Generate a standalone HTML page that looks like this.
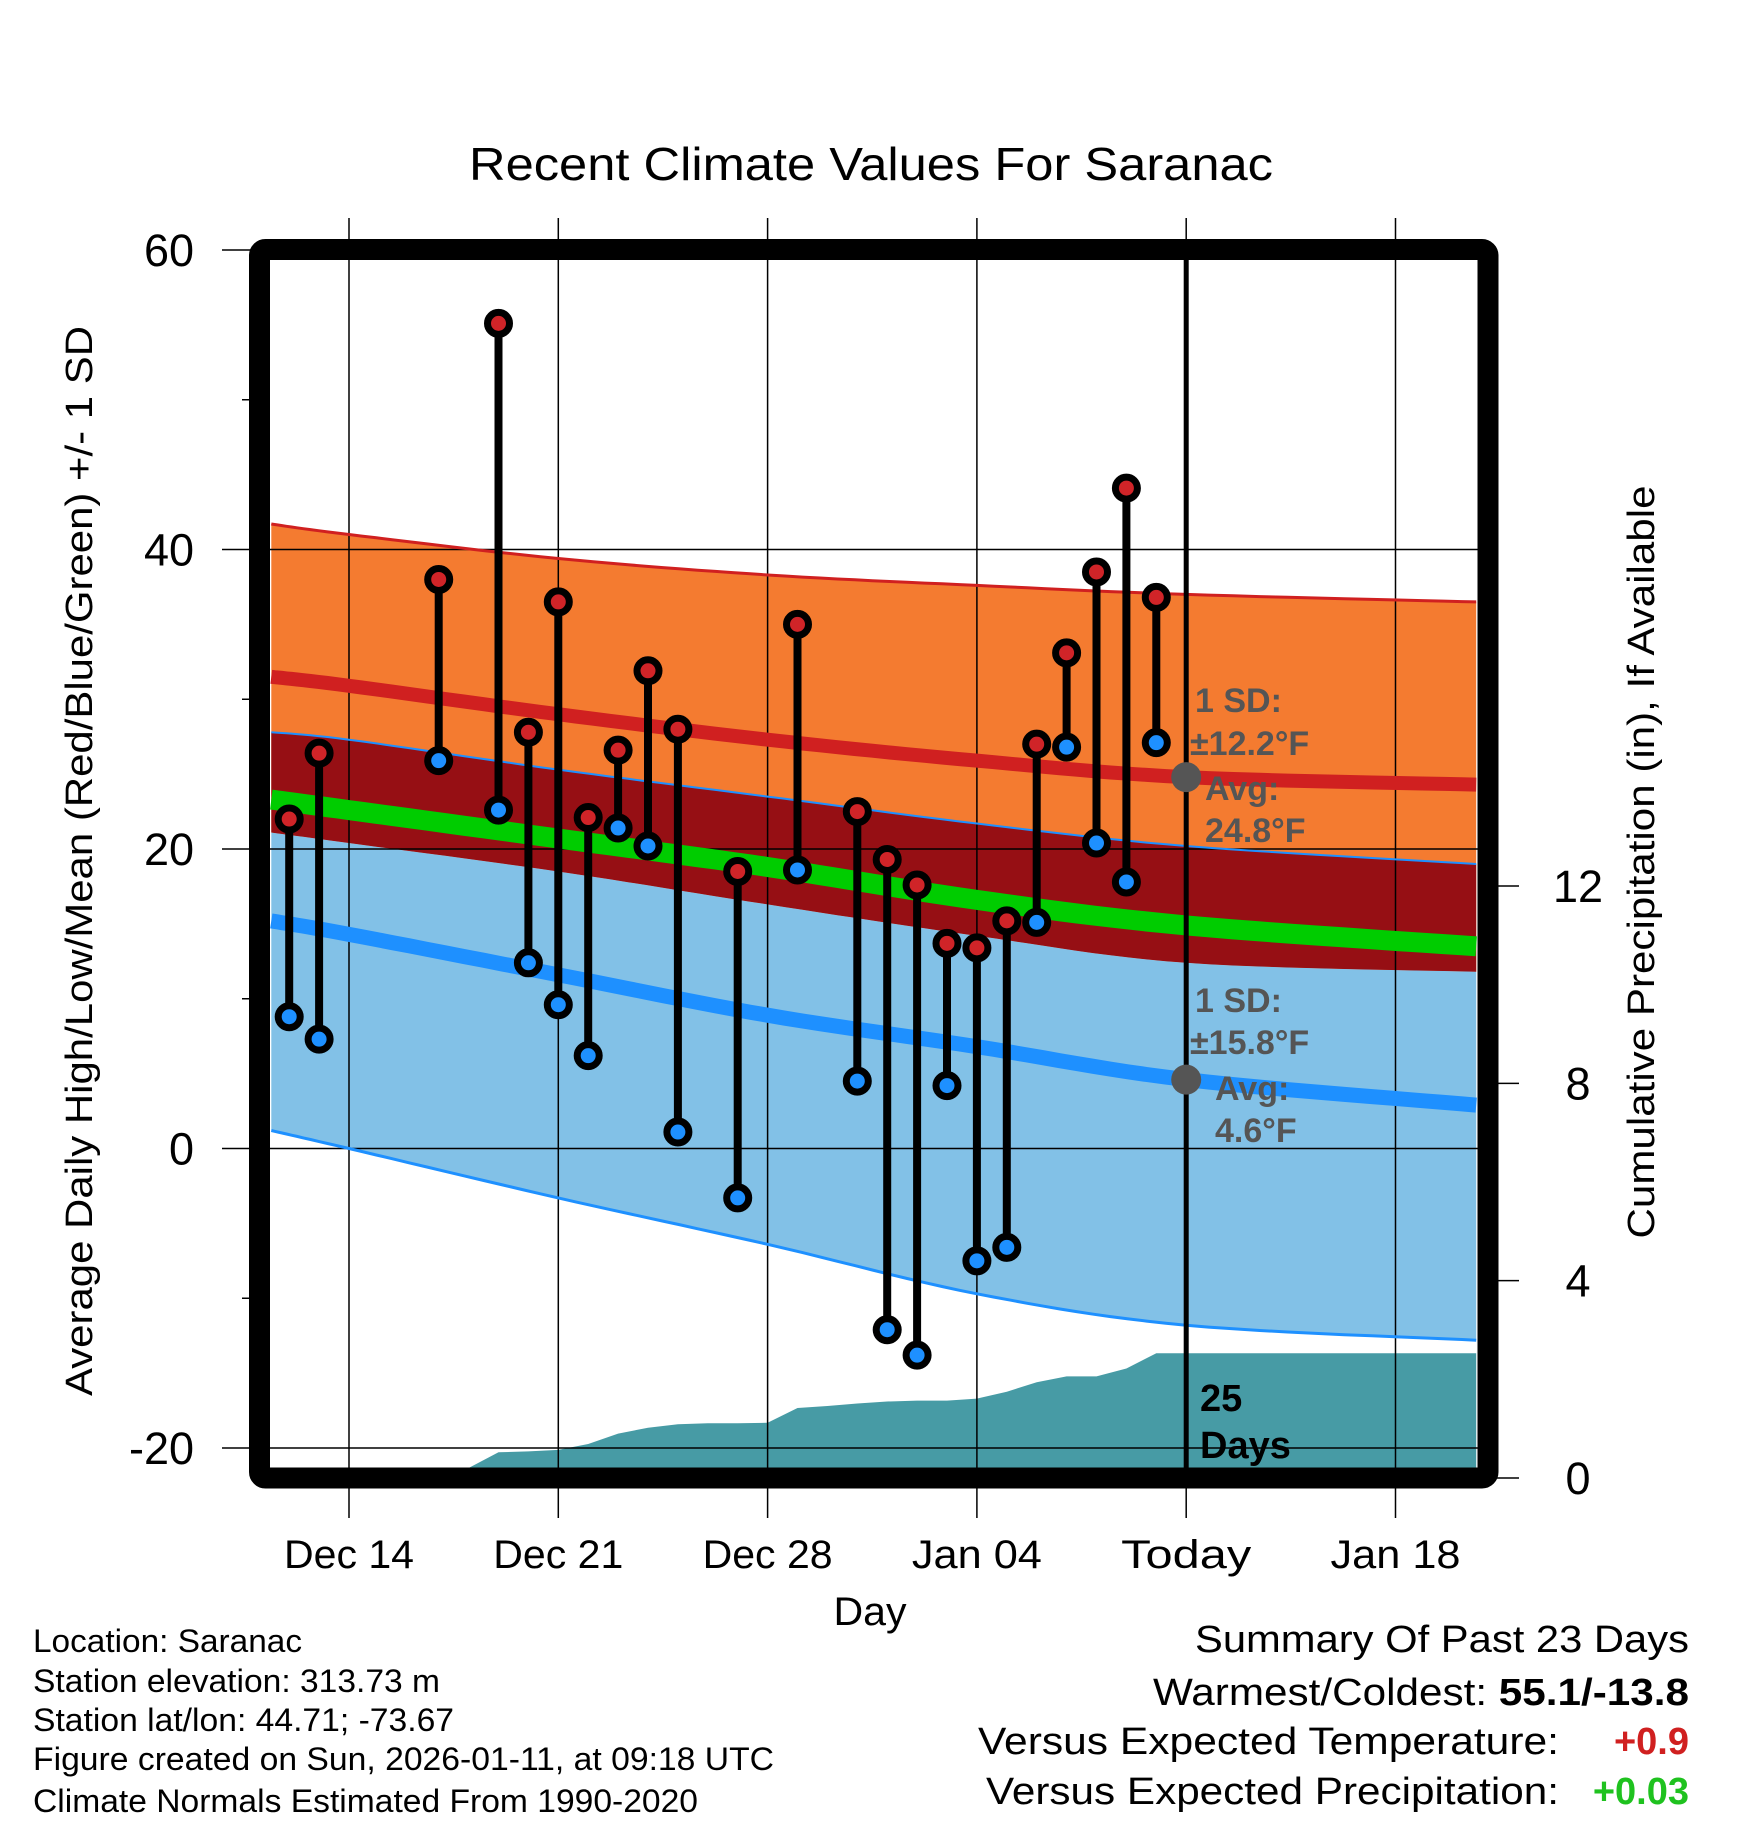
<!DOCTYPE html>
<html><head><meta charset="utf-8"><style>
html,body{margin:0;padding:0;background:#fff;}
svg{display:block;font-family:"Liberation Sans",sans-serif;}
</style></head><body>
<svg id="chart" width="1748" height="1828" viewBox="0 0 1748 1828" xmlns="http://www.w3.org/2000/svg">
<g id="bands"></g>
<g id="precip"></g>
<g id="grid"></g>
<g id="lines"></g>
<g id="marks"></g>
<g id="frame"></g>
<g id="texts">
<text x="871" y="180" font-size="46" text-anchor="middle" textLength="804" lengthAdjust="spacingAndGlyphs">Recent Climate Values For Saranac</text>
<text transform="translate(92,861) rotate(-90)" font-size="38" text-anchor="middle" textLength="1070" lengthAdjust="spacingAndGlyphs">Average Daily High/Low/Mean (Red/Blue/Green) +/- 1 SD</text>
<text transform="translate(1654,862) rotate(-90)" font-size="38" text-anchor="middle" textLength="753" lengthAdjust="spacingAndGlyphs">Cumulative Precipitation (in), If Available</text>
<text x="870" y="1625" font-size="40" text-anchor="middle" textLength="73" lengthAdjust="spacingAndGlyphs">Day</text>
<g font-size="34" font-weight="bold" fill="#555">
<text x="1195" y="712">1 SD:</text>
<text x="1190" y="755">±12.2°F</text>
<text x="1205" y="800">Avg:</text>
<text x="1205" y="842">24.8°F</text>
</g>
<g font-size="34" font-weight="bold" fill="#555">
<text x="1195" y="1012">1 SD:</text>
<text x="1190" y="1054">±15.8°F</text>
<text x="1215" y="1100">Avg:</text>
<text x="1215" y="1142">4.6°F</text>
</g>
<g font-size="38" font-weight="bold" fill="#000">
<text x="1200" y="1411">25</text>
<text x="1200" y="1458">Days</text>
</g>
<g font-size="32" fill="#000">
<text x="33" y="1652" textLength="269" lengthAdjust="spacingAndGlyphs">Location: Saranac</text>
<text x="33" y="1692" textLength="407" lengthAdjust="spacingAndGlyphs">Station elevation: 313.73 m</text>
<text x="33" y="1731" textLength="421" lengthAdjust="spacingAndGlyphs">Station lat/lon: 44.71; -73.67</text>
<text x="33" y="1770" textLength="741" lengthAdjust="spacingAndGlyphs">Figure created on Sun, 2026-01-11, at 09:18 UTC</text>
<text x="33" y="1812" textLength="665" lengthAdjust="spacingAndGlyphs">Climate Normals Estimated From 1990-2020</text>
</g>
<g font-size="38" fill="#000">
<text x="1689" y="1652" text-anchor="end" textLength="494" lengthAdjust="spacingAndGlyphs">Summary Of Past 23 Days</text>
<text x="1689" y="1705" text-anchor="end" textLength="536" lengthAdjust="spacingAndGlyphs">Warmest/Coldest: <tspan font-weight="bold">55.1/-13.8</tspan></text>
<text x="1559" y="1754" text-anchor="end" textLength="581" lengthAdjust="spacingAndGlyphs">Versus Expected Temperature:</text>
<text x="1689" y="1754" text-anchor="end" font-weight="bold" fill="#D02020">+0.9</text>
<text x="1559" y="1804" text-anchor="end" textLength="573" lengthAdjust="spacingAndGlyphs">Versus Expected Precipitation:</text>
<text x="1689" y="1804" text-anchor="end" font-weight="bold" fill="#1FC21F">+0.03</text>
</g>
</g>
</svg>
<script>
// ---- data ----
const dayOffsets = [-2,-1,3,5,6,7,8,9,10,11,13,15,17,18,19,20,21,22,23,24,25,26,27];
const highs = [22,26.4,38,55.1,27.8,36.5,22.1,26.6,31.9,28,18.5,35,22.5,19.3,17.6,13.7,13.4,15.2,27,33.1,38.5,44.1,36.8];
const lows = [8.8,7.3,25.9,22.6,12.4,9.6,6.2,21.4,20.2,1.1,-3.3,18.6,4.5,-12.1,-13.8,4.2,-7.5,-6.6,15.1,26.8,20.4,17.8,27.1];
const normDays = [-2.6,0,7,14,21,28,37.7];
const highPlusSD = [41.7,41.0,39.4,38.3,37.6,37.0,36.5];
const highMean = [31.5,30.9,29.0,27.3,25.9,24.8,24.3];
const lowPlusSD = [27.8,27.3,25.3,23.5,21.7,20.2,19.0];
const meanMean = [23.3,22.6,20.7,18.8,16.6,14.9,13.5];
const highMinusSD = [21.1,20.4,18.5,16.3,14.2,12.4,11.8];
const lowMean = [15.2,14.3,11.6,8.9,6.8,4.6,2.9];
const lowMinusSD = [1.2,0,-3.3,-6.4,-9.7,-11.8,-12.8];
const precipDays = [-2.6,-2,-1,0,1,2,3,4,5,6,7,8,9,10,11,12,13,14,15,16,17,18,19,20,21,22,23,24,25,26,27,37.7];
const precipCum = [0,0,0,0,0,0,0,0,0.52,0.54,0.57,0.69,0.9,1.02,1.09,1.11,1.11,1.12,1.42,1.46,1.51,1.55,1.57,1.57,1.61,1.75,1.94,2.06,2.06,2.22,2.53,2.53];
const xTickDays = [0,7,14,21,28,35];
const xTickLabels = ["Dec 14","Dec 21","Dec 28","Jan 04","Today","Jan 18"];
const yTicks = [60,40,20,0,-20];
const yMinor = [50,30,10,-10];
const y2Ticks = [0,4,8,12];
const todayDay = 28;
const todayHighAvg = 24.8;
const todayLowAvg = 4.6;

// ---- axes ----
const X0=270, X1=1478, Y0=260, Y1=1468;
const xs = d => 349 + d*29.9;
const ys = t => 250 + (60-t)*14.975;
const yp = p => 1478 - p*49.33;
const NS="http://www.w3.org/2000/svg";
function mk(parent, tag, attrs){const e=document.createElementNS(NS,tag);for(const k in attrs)e.setAttribute(k,attrs[k]);parent.appendChild(e);return e;}
const bands=document.getElementById('bands'), precip=document.getElementById('precip'), grid=document.getElementById('grid'), lines=document.getElementById('lines'), marks=document.getElementById('marks'), frame=document.getElementById('frame'), texts=document.getElementById('texts');

// smooth curve through normal values (Catmull-Rom sampling)
function smoothPts(arr){
  const P=normDays.map((d,i)=>[xs(d),ys(arr[i])]);
  const out=[];
  for(let i=0;i<P.length-1;i++){
    const p0=P[Math.max(0,i-1)],p1=P[i],p2=P[i+1],p3=P[Math.min(P.length-1,i+2)];
    for(let k=0;k<12;k++){
      const t=k/12,t2=t*t,t3=t2*t;
      const f=(a,b,c,d)=>0.5*((2*b)+(-a+c)*t+(2*a-5*b+4*c-d)*t2+(-a+3*b-3*c+d)*t3);
      out.push(f(p0[0],p1[0],p2[0],p3[0]).toFixed(1)+','+f(p0[1],p1[1],p2[1],p3[1]).toFixed(1));
    }
  }
  const L=P[P.length-1];out.push(L[0].toFixed(1)+','+L[1].toFixed(1));
  return out;
}
function band(top,bot,fill,name){
  const p=smoothPts(top).concat(smoothPts(bot).reverse()).join(' ');
  const el=mk(bands,'polygon',{points:p,fill:fill});
  
  
}
band(highPlusSD,highMinusSD,'#F47B30','high-sd-band');
band(highMinusSD,lowMinusSD,'#82C1E7','low-sd-band');
band(lowPlusSD,highMinusSD,'#960F14','overlap-band');

// precip
{
  let p=precipDays.map((d,i)=>xs(d).toFixed(1)+','+Math.min(yp(precipCum[i]),Y1).toFixed(1));
  p.push(xs(precipDays[precipDays.length-1]).toFixed(1)+','+Y1);
  p.push(xs(precipDays[0]).toFixed(1)+','+Y1);
  const el=mk(precip,'polygon',{points:p.join(' '),fill:'#479BA5'});
  
  
}

// grid
xTickDays.forEach((d,i)=>{
  const x=xs(d);
  const g=mk(grid,'line',{x1:x,x2:x,y1:218,y2:1518,stroke:'#000','stroke-width':1.5});
  
  
  const t=mk(texts,'text',{x:x,y:1568,'font-size':40,'text-anchor':'middle',textLength:130,lengthAdjust:'spacingAndGlyphs'});
  t.textContent=xTickLabels[i];
  
  
});
yTicks.forEach(v=>{
  const y=ys(v);
  const g=mk(grid,'line',{x1:222,x2:X1,y1:y,y2:y,stroke:'#000','stroke-width':1.5});
  
  
  const t=mk(texts,'text',{x:194,y:y+16,'font-size':45,'text-anchor':'end'});
  t.textContent=v;
  
  
});
yMinor.forEach(v=>{
  const y=ys(v);
  const g=mk(grid,'line',{x1:242,x2:252,y1:y,y2:y,stroke:'#000','stroke-width':1.5});
  
  
});
y2Ticks.forEach(v=>{
  const y=yp(v);
  const g=mk(grid,'line',{x1:1488,x2:1519,y1:y,y2:y,stroke:'#000','stroke-width':1.5});
  
  
  const t=mk(texts,'text',{x:1578,y:y+16,'font-size':45,'text-anchor':'middle'});
  t.textContent=v;
  
  
});

// normal lines
function pl(arr,color,w,name){
  const el=mk(lines,'polyline',{points:smoothPts(arr).join(' '),fill:'none',stroke:color,'stroke-width':w});
  
  
}
pl(highPlusSD,'#D02020',3,'high-plus-sd-line');
pl(lowPlusSD,'#1E90FF',2,'low-plus-sd-line');
pl(lowMinusSD,'#1E90FF',3,'low-minus-sd-line');
pl(highMean,'#D02020',14,'high-mean-line');
pl(lowMean,'#1E90FF',15,'low-mean-line');
pl(meanMean,'#00CC00',20,'mean-line');

// today line & avg dots
{
  const x=xs(todayDay);
  const l=mk(marks,'line',{x1:x,x2:x,y1:Y0,y2:Y1,stroke:'#000','stroke-width':5});
  
  
  const c1=mk(marks,'circle',{cx:x,cy:ys(todayHighAvg),r:15,fill:'#555'});
  
  
  const c2=mk(marks,'circle',{cx:x,cy:ys(todayLowAvg),r:15,fill:'#555'});
  
  
}

// daily marks
dayOffsets.forEach((d,i)=>{
  const x=xs(d), yh=ys(highs[i]), yl=ys(lows[i]);
  const s=mk(marks,'line',{x1:x,x2:x,y1:yh,y2:yl,stroke:'#000','stroke-width':8});
  
  
  const h=mk(marks,'circle',{cx:x,cy:yh,r:11,fill:'#D02428',stroke:'#000','stroke-width':7});
  
  
  const lo=mk(marks,'circle',{cx:x,cy:yl,r:11,fill:'#1E90FF',stroke:'#000','stroke-width':7});
  
  
});

// frame
{
  const r=mk(frame,'rect',{x:259.5,y:249.5,width:1228.5,height:1228.5,fill:'none',stroke:'#000','stroke-width':21,rx:6});
  
  
}
</script>
</body></html>
